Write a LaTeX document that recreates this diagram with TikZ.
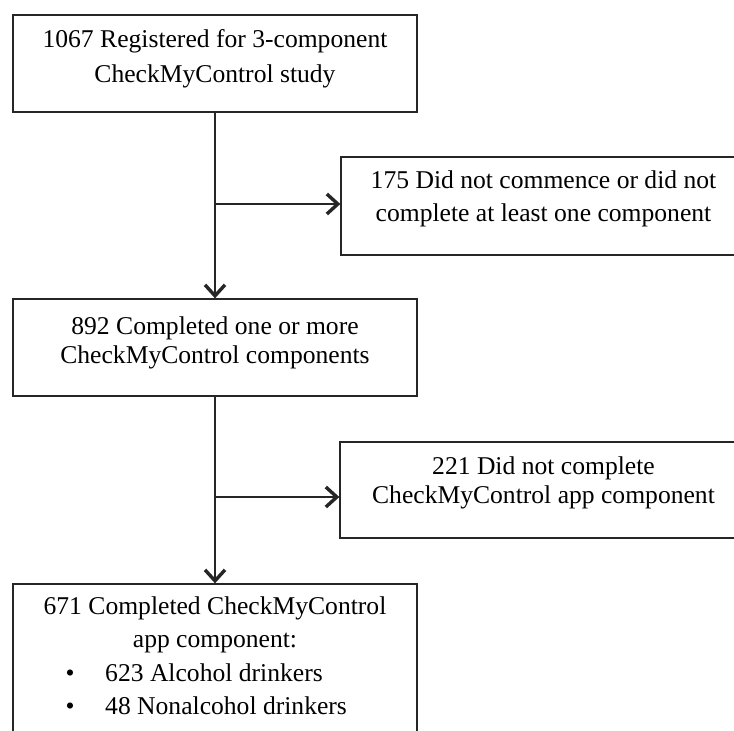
\documentclass[tikz,border=0pt]{standalone}
\usepackage{fontspec}
\setmainfont{Liberation Serif}
\usetikzlibrary{arrows.meta}
\tikzset{
  flowbox/.style={draw=black!85, line width=1.3pt, inner sep=0pt, anchor=center},
  boxtext/.style={inner sep=0pt, align=center, anchor=north},
  linetext/.style={inner sep=0pt, font=\fontsize{25.6}{33.5}\selectfont},
  conn/.style={draw=black!85, line width=1.3pt},
  arr/.style={conn, -{Straight Barb[length=11pt,width=20pt,line width=3.4pt]}}
}
\begin{document}
\begin{tikzpicture}[x=1pt,y=-1pt]
\useasboundingbox (0,0) rectangle (734,731);
\clip (0,0) rectangle (734,731);
% boxes
\node[flowbox, minimum width=404pt, minimum height=97pt] (b1) at (215,63.5) {};
\node[flowbox, minimum width=405pt, minimum height=98pt] (b2) at (543.5,206) {};
\node[flowbox, minimum width=404pt, minimum height=97pt] (b3) at (215,347.5) {};
\node[flowbox, minimum width=406pt, minimum height=96pt] (b4) at (543,490) {};
\node[flowbox, minimum width=404pt, minimum height=180pt] (b5) at (215,674) {};
% texts
\node[boxtext, font=\fontsize{25.6}{35}\selectfont] (t1) at (215,22.5)
  {\strut 1067 Registered for 3-component\\\strut CheckMyControl study};
\node[boxtext, font=\fontsize{25.6}{33}\selectfont] (t2) at (543.5,164.9)
  {\strut 175 Did not commence or did not\\\strut complete at least one component};
\node[boxtext, font=\fontsize{25.6}{29}\selectfont] (t3) at (215,313.7)
  {\strut 892 Completed one or more\\\strut CheckMyControl components};
\node[boxtext, font=\fontsize{25.6}{29}\selectfont] (t4) at (543.5,453.7)
  {\strut 221 Did not complete\\\strut CheckMyControl app component};
\node[boxtext, font=\fontsize{25.6}{33.5}\selectfont] (t5) at (215,590.55)
  {\strut 671 Completed CheckMyControl\\\strut app component:};
\node[linetext, anchor=base] (u1) at (70,681) {•};
\node[linetext, anchor=base west] (l1) at (105,681) {623 Alcohol drinkers};
\node[linetext, anchor=base] (u2) at (70,714) {•};
\node[linetext, anchor=base west] (l2) at (105,714) {48 Nonalcohol drinkers};
% connectors
\coordinate (j1) at (215,204);
\coordinate (j2) at (215,497);
\draw[arr] (b1.south) -- (b3.north);
\draw[arr] (j1) -- (j1 -| b2.west);
\draw[arr] (b3.south) -- (b5.north);
\draw[arr] (j2) -- (j2 -| b4.west);
\end{tikzpicture}
\end{document}
